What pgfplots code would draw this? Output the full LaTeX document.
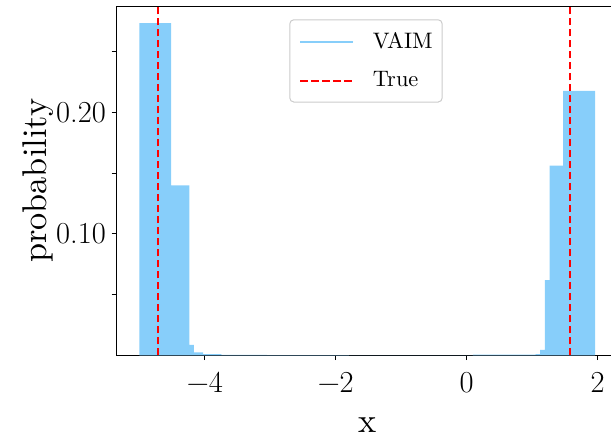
\documentclass[border=0pt]{standalone}
\usepackage{pgfplots}
\pgfplotsset{compat=1.18}
\definecolor{lsb}{RGB}{135,206,250}
\font\labfont="[lmroman10-regular]:mapping=tex-text" at 34.3bp
\font\legfont="[lmroman10-regular]:mapping=tex-text" at 22.4bp
\begin{document}
\begin{tikzpicture}
\begin{axis}[
  name=ax,
  scale only axis, width=501.5bp, height=348.8bp,
  xmin=-5.348, xmax=2.31, ymin=0, ymax=0.2874,
  axis line style={line width=1.1bp},
  tick align=outside, major tick length=4.86bp, minor tick length=4.86bp,
  every tick/.style={black, line width=1.1bp},
  xtick pos=bottom, ytick pos=left,
  xtick={-4,-2,0,2}, xticklabels={−4,−2,0,2},
  ytick={0.1,0.2}, yticklabels={0.10,0.20},
  minor ytick={0.05,0.15,0.25},
  ticklabel style={font=\fontsize{30.5bp}{36bp}\selectfont, inner sep=0pt},
  xticklabel style={anchor=base, yshift=-32.8bp},
  yticklabel style={anchor=east, xshift=-5.6bp},
  xlabel={x}, ylabel={probability},
  label style={font=\labfont, inner sep=0pt},
  xlabel style={at={(axis description cs:0.5,-0.2215)}, anchor=base},
  ylabel style={at={(axis description cs:-0.1394,0.5)}, anchor=base},
  legend style={at={(0.3446,0.9633)}, anchor=north west, draw=black!20, line width=1bp,
    rounded corners=4bp, fill=white, fill opacity=0.8, text opacity=1,
    font=\legfont, inner xsep=9.5bp, inner ysep=12.5bp,
    row sep=20.6bp, column sep=18.5bp, nodes={inner sep=0pt, text depth=2.7bp}},
  legend cell align=left,
]
\addplot[ybar interval, fill=lsb, draw=none,
  legend image code/.code={\draw[lsb, line width=2.08bp] (0bp,0bp) -- (53bp,0bp);}]
  coordinates {
  (-5.000,0.2737)
  (-4.513,0.1400)
  (-4.234,0.0085)
  (-4.165,0.0025)
  (-4.026,0.0010)
  (-3.747,0.0004)
  (-3.050,0.0002)
  (-1.800,0.0000)
  (0.092,0.0005)
  (1.052,0.0010)
  (1.122,0.0044)
  (1.194,0.0620)
  (1.264,0.1563)
  (1.473,0.2179)
  (1.960,0)
  };
\addlegendentry{VAIM}
\addplot[red, line width=2.08bp, dash pattern=on 7.7bp off 3.3bp,
  legend image code/.code={\draw[red, line width=2.08bp, dash pattern=on 7.7bp off 3.3bp] (0bp,0bp) -- (53bp,0bp);}]
  coordinates {(-4.7124,0) (-4.7124,0.2874)};
\addlegendentry{True}
\addplot[red, line width=2.08bp, dash pattern=on 7.7bp off 3.3bp, forget plot]
  coordinates {(1.5708,0) (1.5708,0.2874)};
\end{axis}
\pgfresetboundingbox
\useasboundingbox ([xshift=-116.5bp,yshift=-82.7bp]ax.south west) rectangle ([xshift=494.5bp,yshift=6.5bp]ax.north west);
\end{tikzpicture}
\end{document}
